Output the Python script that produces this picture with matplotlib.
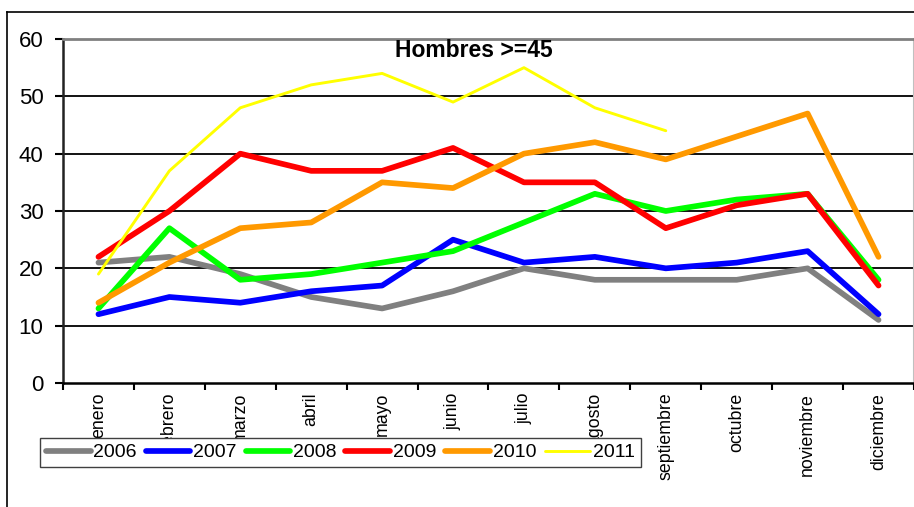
import matplotlib
matplotlib.use("Agg")
import matplotlib.pyplot as plt
from matplotlib.lines import Line2D
import numpy as np

plt.rcParams['font.family'] = ['Liberation Sans', 'DejaVu Sans']

months = ["enero", "febrero", "marzo", "abril", "mayo", "junio", "julio",
          "agosto", "septiembre", "octubre", "noviembre", "diciembre"]
years = ["2006", "2007", "2008", "2009", "2010", "2011"]
s2006 = [21, 22, 19, 15, 13, 16, 20, 18, 18, 18, 20, 11]
s2007 = [12, 15, 14, 16, 17, 25, 21, 22, 20, 21, 23, 12]
s2008 = [13, 27, 18, 19, 21, 23, 28, 33, 30, 32, 33, 18]
s2009 = [22, 30, 40, 37, 37, 41, 35, 35, 27, 31, 33, 17]
s2010 = [14, 21, 27, 28, 35, 34, 40, 42, 39, 43, 47, 22]
s2011 = [19, 37, 48, 52, 54, 49, 55, 48, 44, None, None, None]
series = [s2006, s2007, s2008, s2009, s2010, s2011]
colors = ["#808080", "#0000FF", "#00FF00", "#FF0000", "#FF9900", "#FFFF00"]
widths = [4.1, 4.1, 4.1, 4.1, 4.1, 2.1]
title = "Hombres >=45"

W, H = 914, 507
fig = plt.figure(figsize=(W / 100, H / 100), dpi=100)
ax = fig.add_axes([63 / W, 1 - 383 / H, (W - 63) / W, (383 - 39) / H])

x = np.arange(len(months))
for s, c, lw, lab in zip(series, colors, widths, years):
    y = np.array([np.nan if v is None else v for v in s], dtype=float)
    ax.plot(x, y, color=c, lw=lw, label=lab, solid_joinstyle='round',
            solid_capstyle='round', zorder=3)

ax.set_xlim(-0.5, 11.5)
ax.set_ylim(0, 60)
ax.set_yticks(range(0, 61, 10))
for yv in range(10, 60, 10):
    ax.axhline(yv, color='black', lw=1.3, zorder=1)

ax.set_xticks(x)
ax.set_xticklabels(months, rotation=90, fontsize=12.8, va='top', ha='center')
ax.set_xticks(np.arange(-0.5, 12, 1), minor=True)
ax.tick_params(axis='x', which='major', length=0, pad=7)
ax.tick_params(axis='x', which='minor', length=5, width=1.5, color='black')
ax.tick_params(axis='y', length=6, width=1.5, pad=8, labelsize=16, color='black')

ax.spines['left'].set_color('#222222')
ax.spines['left'].set_linewidth(1.8)
ax.spines['bottom'].set_color('black')
ax.spines['bottom'].set_linewidth(1.8)
ax.spines['top'].set_color('#808080')
ax.spines['top'].set_linewidth(2)
ax.spines['right'].set_color('#c0c0c0')
ax.spines['right'].set_linewidth(1.5)

fig.text(474 / W, 1 - 50 / H, title, fontsize=16.5, fontweight='bold',
         ha='center', va='center')

leg = ax.legend(loc='upper left', bbox_to_anchor=(40 / W, 1 - 438 / H),
                bbox_transform=fig.transFigure, ncol=6, fontsize=14,
                frameon=True, fancybox=False, shadow=False, framealpha=1,
                edgecolor='#404040', handlelength=2.3, handletextpad=0.15,
                columnspacing=0.45, borderaxespad=0, borderpad=0.3)
leg.get_frame().set_linewidth(1.0)
leg.set_zorder(10)
for h in leg.legend_handles:
    h.set_solid_capstyle('round')

# outer chart frame
fig.add_artist(Line2D([7.5 / W, 7.5 / W], [0, 1 - 12 / H], color='black', lw=1.2))
fig.add_artist(Line2D([7.5 / W, 1], [1 - 12 / H, 1 - 12 / H], color='black', lw=1.2))

fig.savefig("out.png", dpi=100)
